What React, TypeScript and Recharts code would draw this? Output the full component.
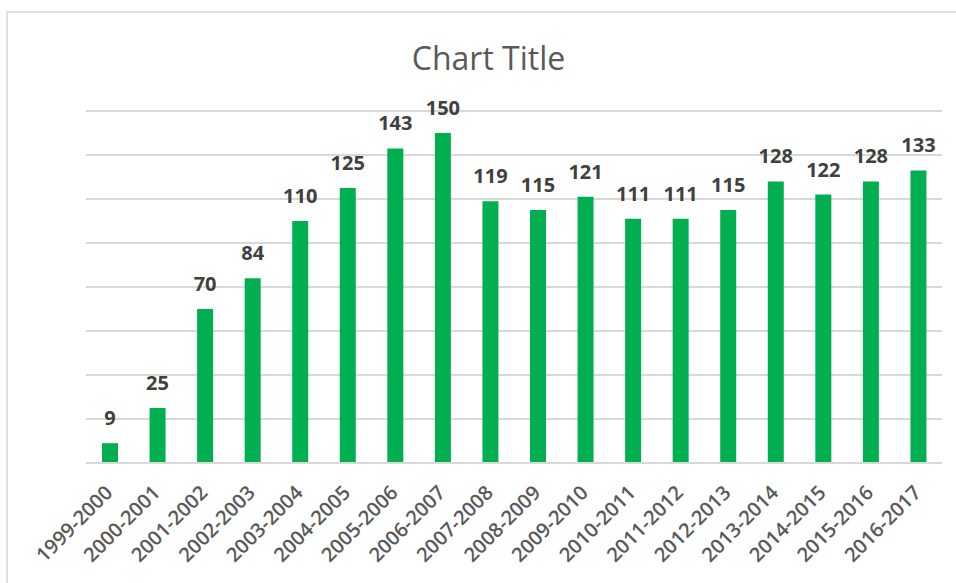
import { BarChart, Bar, XAxis, YAxis, CartesianGrid, LabelList } from "recharts";

const seasons = [
    "1999-2000", "2000-2001", "2001-2002", "2002-2003", "2003-2004", "2004-2005",
    "2005-2006", "2006-2007", "2007-2008", "2008-2009", "2009-2010", "2010-2011",
    "2011-2012", "2012-2013", "2013-2014", "2014-2015", "2015-2016", "2016-2017",
];
const counts = [9, 25, 70, 84, 110, 125, 143, 150, 119, 115, 121, 111, 111, 115, 128, 122, 128, 133];
const gridTicks = [0, 20, 40, 60, 80, 100, 120, 140, 160];

const data = seasons.map((name, i) => ({ name, value: counts[i] }));

const FONT = "'Open Sans', 'Noto Sans', sans-serif";

const AngledTick = ({ x, y, payload }: any) => (
    <g transform={`translate(${x + 4},${y + 23}) rotate(-45)`}>
        <text x={0} y={0} textAnchor="end" fill="#595959" fontSize={20} fontWeight={600} fontFamily={FONT}>
            {payload.value}
        </text>
    </g>
);

export default function App() {
    return (
        <div style={{ position: "relative", width: 956, height: 583, overflow: "hidden", background: "#fff" }}>
            <style>{`body{margin:0}`}</style>
            <div
                style={{
                    position: "absolute",
                    left: 6,
                    top: 11,
                    width: 1100,
                    height: 800,
                    border: "2px solid #e0e0e0",
                }}
            />
            <div
                style={{
                    position: "absolute",
                    left: 0,
                    top: 42,
                    width: 977,
                    textAlign: "center",
                    fontFamily: FONT,
                    fontSize: 32,
                    lineHeight: "32px",
                    color: "#595959",
                }}
            >
                Chart Title
            </div>
            <div style={{ position: "absolute", left: 0, top: 0 }}>
                <BarChart
                    width={956}
                    height={583}
                    data={data}
                    margin={{ top: 111, right: 14, left: 86, bottom: 0 }}
                >
                    <CartesianGrid vertical={false} stroke="#d9d9d9" strokeWidth={2} />
                    <XAxis
                        dataKey="name"
                        height={120}
                        interval={0}
                        tickLine={false}
                        axisLine={{ stroke: "#d9d9d9", strokeWidth: 2 }}
                        tick={<AngledTick />}
                    />
                    <YAxis hide domain={[0, 160]} ticks={gridTicks} />
                    <Bar dataKey="value" fill="#00b050" barSize={16} isAnimationActive={false}>
                        <LabelList
                            dataKey="value"
                            position="top"
                            offset={18}
                            fill="#404040"
                            fontSize={20}
                            fontWeight={700}
                            fontFamily={FONT}
                        />
                    </Bar>
                </BarChart>
            </div>
        </div>
    );
}
